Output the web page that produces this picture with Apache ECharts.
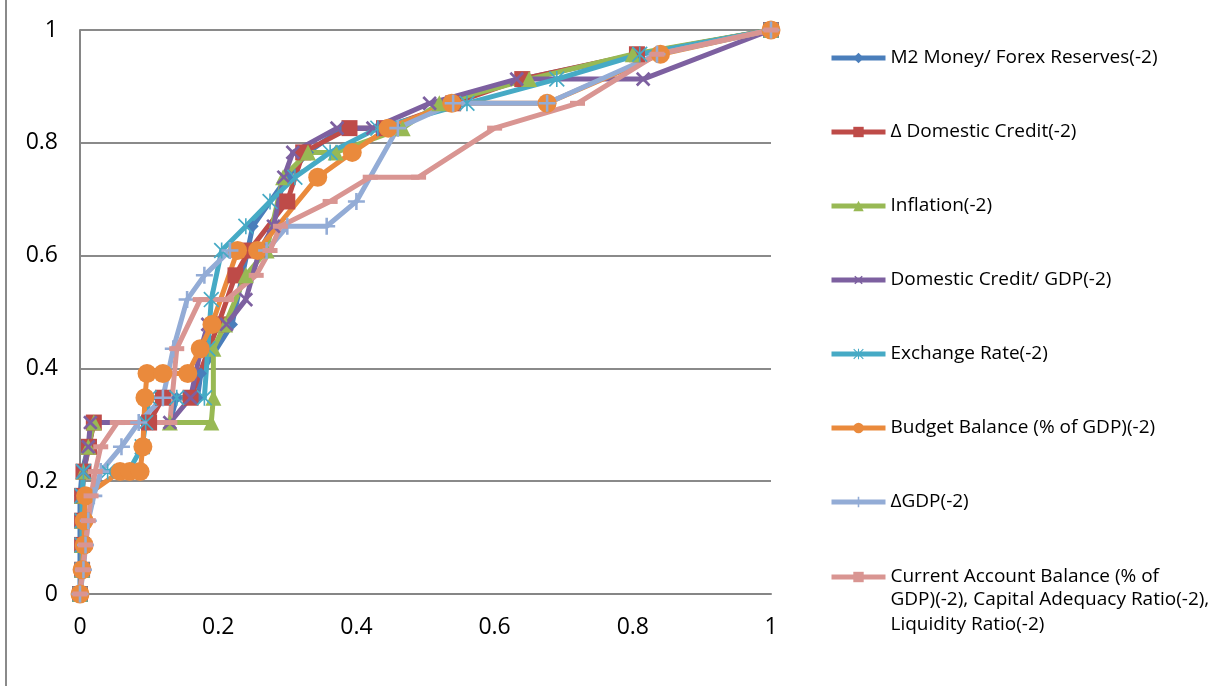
<!DOCTYPE html>
<html>
<head>
<meta charset="utf-8">
<script src="https://cdn.jsdelivr.net/npm/echarts@6/dist/echarts.min.js"></script>
<style>
  html, body { margin: 0; padding: 0; background: #ffffff; }
  #chart { width: 1213px; height: 686px; }
</style>
</head>
<body>
<div id="chart"></div>
<script>
// Series names (legend order)
const seriesNames = [
  'M2 Money/ Forex Reserves(-2)',
  '\u0394 Domestic Credit(-2)',
  'Inflation(-2)',
  'Domestic Credit/ GDP(-2)',
  'Exchange Rate(-2)',
  'Budget Balance (% of GDP)(-2)',
  '\u0394GDP(-2)',
  'Current Account Balance (% of GDP)(-2), Capital Adequacy Ratio(-2), Liquidity Ratio(-2)'
];
// How the long last name wraps in the legend
const lastNameLines = [
  'Current Account Balance (% of',
  'GDP)(-2), Capital Adequacy Ratio(-2),',
  'Liquidity Ratio(-2)'
];

// Axis ticks
const axisTicks = [0, 0.2, 0.4, 0.6, 0.8, 1];

// M2 Money / Forex Reserves
const m2X = [0, 0, 0, 0, 0, 0.003, 0.012, 0.02, 0.13, 0.14, 0.17, 0.175, 0.22, 0.25, 0.3, 0.33, 0.38, 0.46, 0.53, 0.64, 0.81, 1];
const m2Y = [0, 0.043, 0.087, 0.13, 0.174, 0.217, 0.261, 0.304, 0.304, 0.348, 0.348, 0.391, 0.478, 0.652, 0.739, 0.783, 0.826, 0.826, 0.87, 0.913, 0.957, 1];

// Change in domestic credit
const dCreditX = [0, 0.003, 0.003, 0.003, 0.003, 0.005, 0.013, 0.02, 0.1, 0.12, 0.16, 0.2, 0.225, 0.245, 0.3, 0.323, 0.39, 0.44, 0.54, 0.64, 0.806, 1];
const dCreditY = [0, 0.043, 0.087, 0.13, 0.174, 0.217, 0.261, 0.304, 0.304, 0.348, 0.348, 0.478, 0.565, 0.609, 0.696, 0.783, 0.826, 0.826, 0.87, 0.913, 0.957, 1];

// Inflation
const inflX = [0, 0.003, 0.003, 0.003, 0.003, 0.005, 0.012, 0.02, 0.13, 0.19, 0.193, 0.193, 0.21, 0.24, 0.27, 0.294, 0.33, 0.37, 0.467, 0.52, 0.65, 0.8, 1];
const inflY = [0, 0.043, 0.087, 0.13, 0.174, 0.217, 0.261, 0.304, 0.304, 0.304, 0.348, 0.435, 0.478, 0.565, 0.609, 0.739, 0.783, 0.783, 0.826, 0.87, 0.913, 0.957, 1];

// Domestic credit / GDP
const creditGdpX = [0, 0.003, 0.003, 0.003, 0.003, 0.005, 0.012, 0.015, 0.13, 0.16, 0.175, 0.185, 0.212, 0.24, 0.26, 0.28, 0.295, 0.308, 0.372, 0.424, 0.506, 0.632, 0.815, 1];
const creditGdpY = [0, 0.043, 0.087, 0.13, 0.174, 0.217, 0.261, 0.304, 0.304, 0.348, 0.435, 0.478, 0.478, 0.522, 0.609, 0.652, 0.739, 0.783, 0.826, 0.826, 0.87, 0.913, 0.913, 1];

// Exchange rate
const fxX = [0, 0.003, 0.003, 0.003, 0.003, 0.005, 0.04, 0.07, 0.09, 0.095, 0.1, 0.14, 0.18, 0.185, 0.19, 0.205, 0.24, 0.275, 0.311, 0.362, 0.431, 0.56, 0.69, 0.81, 1];
const fxY = [0, 0.043, 0.087, 0.13, 0.174, 0.217, 0.217, 0.217, 0.261, 0.304, 0.348, 0.348, 0.348, 0.435, 0.522, 0.609, 0.652, 0.696, 0.739, 0.783, 0.826, 0.87, 0.913, 0.957, 1];

// Budget balance (% of GDP)
const budgetX = [0, 0.003, 0.006, 0.006, 0.008, 0.058, 0.072, 0.087, 0.091, 0.094, 0.097, 0.12, 0.156, 0.174, 0.191, 0.228, 0.257, 0.344, 0.394, 0.446, 0.538, 0.676, 0.84, 1];
const budgetY = [0, 0.043, 0.087, 0.13, 0.174, 0.217, 0.217, 0.217, 0.261, 0.348, 0.391, 0.391, 0.391, 0.435, 0.478, 0.609, 0.609, 0.739, 0.783, 0.826, 0.87, 0.87, 0.957, 1];

// Change in GDP
const dGdpX = [0, 0.005, 0.008, 0.012, 0.02, 0.03, 0.06, 0.085, 0.12, 0.135, 0.155, 0.18, 0.217, 0.27, 0.3, 0.357, 0.4, 0.46, 0.54, 0.676, 0.835, 1];
const dGdpY = [0, 0.043, 0.087, 0.13, 0.174, 0.217, 0.261, 0.304, 0.348, 0.435, 0.522, 0.565, 0.609, 0.609, 0.652, 0.652, 0.696, 0.826, 0.87, 0.87, 0.957, 1];

// Current account balance, capital adequacy ratio, liquidity ratio
const caX = [0, 0.004, 0.008, 0.012, 0.016, 0.022, 0.03, 0.054, 0.13, 0.14, 0.174, 0.212, 0.255, 0.275, 0.29, 0.362, 0.42, 0.49, 0.6, 0.72, 0.835, 1];
const caY = [0, 0.043, 0.087, 0.13, 0.174, 0.217, 0.261, 0.304, 0.304, 0.435, 0.522, 0.522, 0.565, 0.609, 0.652, 0.696, 0.739, 0.739, 0.826, 0.87, 0.957, 1];

const colors = ['#4A7EBB', '#BE4B48', '#98B954', '#7D60A0', '#46AAC5', '#EA8A3C', '#93ACD6', '#D99592'];

// Marker shapes
const plusPath = 'path://M8.5,0h3v8.5h8.5v3h-8.5v8.5h-3v-8.5h-8.5v-3h8.5z';
const starPath = 'path://M9,0h2v20h-2z M0,1.5L1.5,0L20,18.5L18.5,20z M18.5,0L20,1.5L1.5,20L0,18.5z';

function zip(xs, ys) {
  return xs.map((x, i) => [x, ys[i]]);
}

const seriesData = [
  zip(m2X, m2Y), zip(dCreditX, dCreditY), zip(inflX, inflY), zip(creditGdpX, creditGdpY),
  zip(fxX, fxY), zip(budgetX, budgetY), zip(dGdpX, dGdpY), zip(caX, caY)
];

const markers = [
  { symbol: 'diamond', symbolSize: 12 },
  { symbol: 'rect', symbolSize: 16 },
  { symbol: 'triangle', symbolSize: 16 },
  { symbol: plusPath, symbolSize: 18, symbolRotate: 45 },
  { symbol: starPath, symbolSize: 16 },
  { symbol: 'circle', symbolSize: 19 },
  { symbol: plusPath, symbolSize: 17 },
  { symbol: 'rect', symbolSize: [15, 5] }
];

const fontFamily = '"Open Sans", "DejaVu Sans", sans-serif';

const series = seriesNames.map((name, i) => Object.assign({
  name: name,
  type: 'line',
  data: seriesData[i],
  showSymbol: true,
  lineStyle: { width: 5, color: colors[i], join: 'round' },
  itemStyle: { color: colors[i] },
  emphasis: { disabled: true }
}, markers[i]));

const chart = echarts.init(document.getElementById('chart'), null, { renderer: 'canvas' });

const legendCommon = {
  orient: 'vertical',
  left: 824,
  itemWidth: 54,
  itemHeight: 13,
  selectedMode: false,
  lineStyle: { width: 5 }
};

chart.setOption({
  animation: false,
  color: colors,
  grid: { left: 80, right: 442, top: 30, bottom: 92, containLabel: false },
  xAxis: {
    type: 'value',
    min: axisTicks[0],
    max: axisTicks[axisTicks.length - 1],
    interval: 0.2,
    axisLine: { show: true, onZero: false, lineStyle: { color: '#868686', width: 2 } },
    axisTick: { show: false },
    splitLine: { show: false },
    axisLabel: { margin: 22, color: '#000', fontSize: 23, fontFamily: fontFamily }
  },
  yAxis: {
    type: 'value',
    min: axisTicks[0],
    max: axisTicks[axisTicks.length - 1],
    interval: 0.2,
    axisLine: { show: true, lineStyle: { color: '#868686', width: 2 } },
    axisTick: { show: false },
    splitLine: { show: true, lineStyle: { color: '#8a8a8a', width: 2 } },
    axisLabel: { margin: 22, color: '#000', fontSize: 23, fontFamily: fontFamily }
  },
  legend: [
    Object.assign({}, legendCommon, {
      data: seriesNames.slice(0, 7),
      top: 41,
      itemGap: 50,
      textStyle: { color: '#000', fontSize: 19, fontFamily: fontFamily, lineHeight: 24 }
    }),
    Object.assign({}, legendCommon, {
      data: seriesNames.slice(7),
      top: 562,
      formatter: function () {
        return '{first|' + lastNameLines[0] + '}\n{rest|' + lastNameLines[1] + '}\n{rest|' + lastNameLines[2] + '}';
      },
      textStyle: {
        color: '#000', fontSize: 19, fontFamily: fontFamily,
        rich: {
          first: { color: '#000', fontSize: 19, fontFamily: fontFamily, padding: [50, 0, 1, 0] },
          rest: { color: '#000', fontSize: 19, fontFamily: fontFamily, lineHeight: 25 }
        }
      }
    })
  ],
  graphic: [
    {
      type: 'line',
      shape: { x1: 6, y1: 0, x2: 6, y2: 686 },
      style: { stroke: '#8a8a8a', lineWidth: 2 },
      silent: true
    }
  ],
  series: series
});
</script>
</body>
</html>
